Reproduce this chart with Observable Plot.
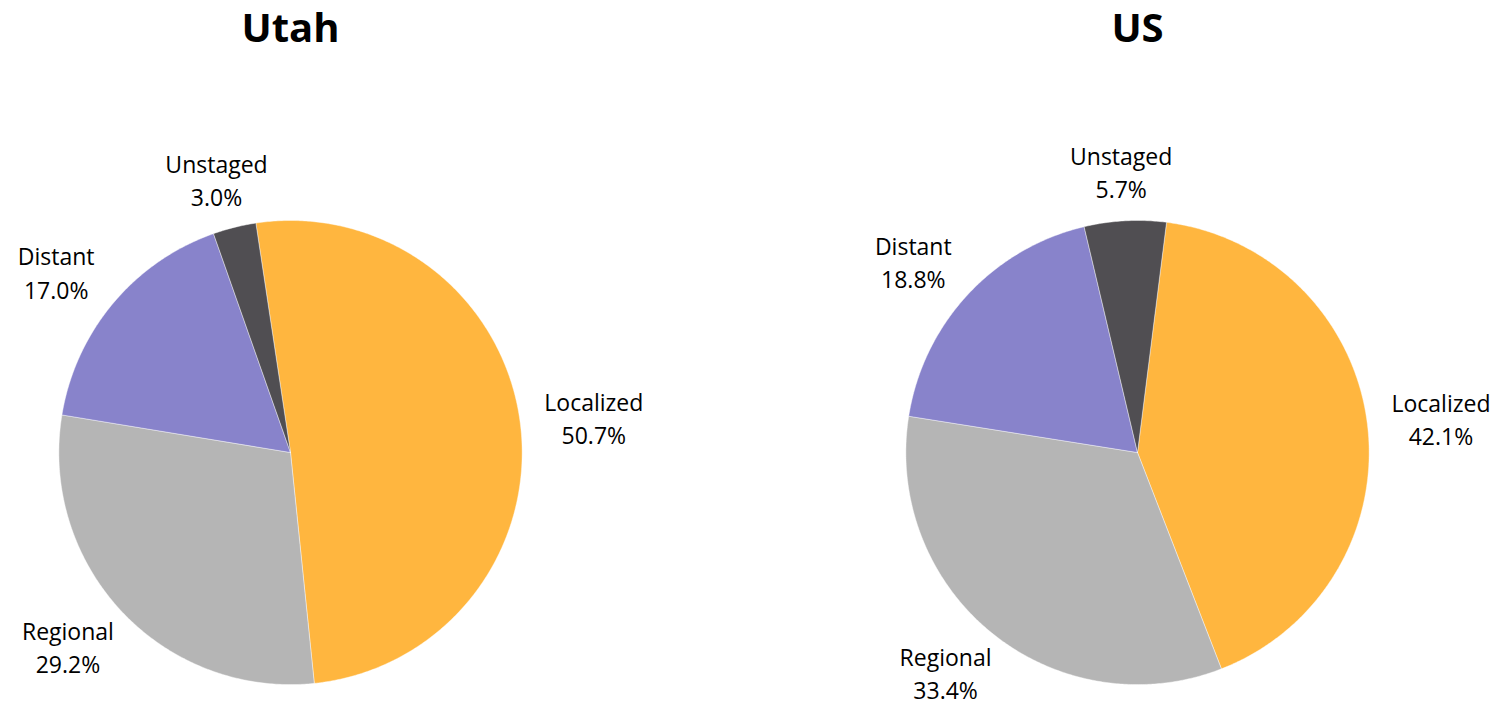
<!DOCTYPE html>
<html>
<head>
<meta charset="utf-8">
<script src="https://cdn.jsdelivr.net/npm/d3@7"></script>
<script src="https://cdn.jsdelivr.net/npm/@observablehq/plot@0.6"></script>
<style>
  html, body { margin: 0; padding: 0; background: #ffffff; }
</style>
</head>
<body>
<div id="chart"></div>
<script>
// ---- data ----
const regions = ["Utah", "US"];
const stages = ["Localized", "Regional", "Distant", "Unstaged"];
const utahValues = [50.7, 29.2, 17.0, 3.0];
const usValues = [42.1, 33.4, 18.8, 5.7];
const stageColors = ["#FFB63F", "#B5B5B5", "#8883CB", "#504E52"];
// angle of first slice (degrees clockwise from 12 o'clock), per region
const firstSliceAngle = [-8.6, 7.2];

const valuesByRegion = [utahValues, usValues];

// ---- build slice outlines & label anchors in unit-circle coordinates ----
const slicePoints = [];
const labels = [];
regions.forEach((region, ri) => {
  const vals = valuesByRegion[ri];
  const total = d3.sum(vals);
  let a = firstSliceAngle[ri];
  vals.forEach((v, si) => {
    const span = v / total * 360;
    const a0 = a, a1 = a + span;
    const pts = [{x: 0, y: 0}];
    const n = Math.max(2, Math.ceil(span / 0.5));
    for (let k = 0; k <= n; k++) {
      const t = (a0 + (a1 - a0) * k / n) * Math.PI / 180;
      pts.push({x: Math.sin(t), y: Math.cos(t)});
    }
    pts.push({x: 0, y: 0});
    pts.forEach(p => slicePoints.push({region, stage: stages[si], x: p.x, y: p.y}));
    const m = (a0 + a1) / 2 * Math.PI / 180;
    labels.push({
      region, stage: stages[si],
      x: Math.sin(m) * 1.32,
      y: Math.cos(m) * 1.215,
      text: `${stages[si]}\n${v.toFixed(1)}%`
    });
    a = a1;
  });
});

const chart = Plot.plot({
  width: 1503,
  height: 708,
  marginTop: 0,
  marginBottom: 0,
  marginLeft: 0,
  marginRight: 75,
  style: {fontFamily: "'Open Sans', sans-serif", background: "#ffffff", color: "#000"},
  fx: {domain: regions, paddingInner: 0.4, paddingOuter: 0.042, axis: null},
  x: {domain: [-1.0966, 1.0966], axis: null},
  y: {domain: [-1.103, 1.948], axis: null},
  color: {domain: stages, range: stageColors},
  marks: [
    Plot.line(slicePoints, {
      fx: "region", x: "x", y: "y", z: "stage",
      fill: "stage", stroke: "#ffffff", strokeWidth: 0.6, strokeOpacity: 0.7,
      curve: "linear"
    }),
    Plot.text(labels, {
      fx: "region", x: "x", y: "y", text: "text",
      fontSize: 23, lineHeight: 1.45, fill: "#000",
      textAnchor: "middle", lineAnchor: "middle"
    }),
    Plot.text(regions, {
      fx: d => d, text: d => d,
      frameAnchor: "top", dy: 29,
      fontSize: 40, fontWeight: "bold", fill: "#000", lineAnchor: "middle"
    })
  ]
});
document.getElementById("chart").appendChild(chart);
</script>
</body>
</html>
